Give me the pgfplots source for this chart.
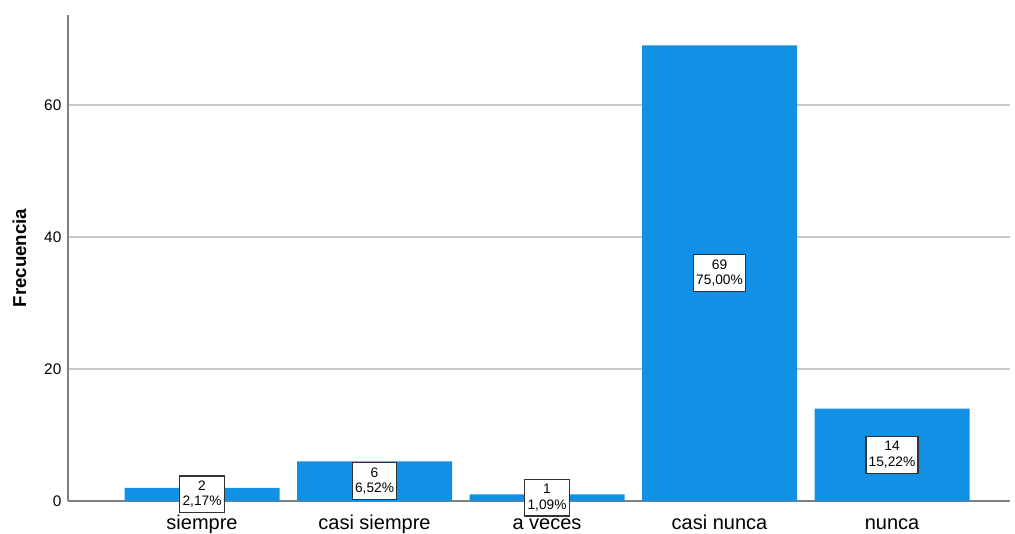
\documentclass[border=0pt]{standalone}
\usepackage{pgfplots}
\pgfplotsset{compat=1.18}
\usepackage{fontspec}
\setmainfont{Liberation Sans}
\definecolor{barblue}{HTML}{1290E6}
\definecolor{gridgray}{HTML}{CACACA}
\definecolor{axisgray}{HTML}{808080}
\definecolor{boxedge}{HTML}{333333}
\begin{document}
\begin{tikzpicture}
\path[use as bounding box] (-51pt,-24pt) rectangle (710.25pt,375.75pt);
\begin{axis}[
  at={(0,0)}, anchor=south west,
  scale only axis,
  width=706.5pt, height=364.5pt,
  xmin=-0.777, xmax=4.684,
  ymin=0, ymax=73.6,
  axis x line=bottom, axis y line=left,
  axis line style={-, draw=axisgray, line width=0.9pt},
  xtick={0,1,2,3,4},
  xticklabels={siempre, casi siempre, a veces, casi nunca, nunca},
  ytick={0,20,40,60},
  major tick length=0pt,
  ymajorgrids,
  grid style={gridgray, line width=1.1pt},
  /pgf/number format/assume math mode=true,
  xticklabel style={font=\fontsize{15}{17}\selectfont, anchor=base, yshift=-21pt},
  yticklabel style={font=\fontsize{11.5}{13}\selectfont, xshift=-1.5pt},
  ylabel={Frecuencia},
  ylabel style={font=\fontsize{14}{16}\selectfont\bfseries, at={(axis description cs:-0.0515,0.5)}, anchor=center, rotate=0},
  clip=false,
]
\addplot[ybar, bar width=116.25pt, fill=barblue, draw=none]
  coordinates {(0,2) (1,6) (2,1) (3,69) (4,14)};
\addplot[draw=none, mark=none, nodes near coords, point meta=explicit symbolic,
  every node near coord/.style={anchor=center, fill=white, draw=boxedge, line width=0.9pt,
    inner xsep=2pt, inner ysep=3.8pt, align=center, font=\fontsize{10.3}{11.5}\selectfont}]
  coordinates {(0,1) [{2\\2,17\%}] (1,3) [{6\\6,52\%}] (2,0.5) [{1\\1,09\%}] (3,34.5) [{69\\75,00\%}] (4,7) [{14\\15,22\%}]};
\end{axis}
\end{tikzpicture}
\end{document}
